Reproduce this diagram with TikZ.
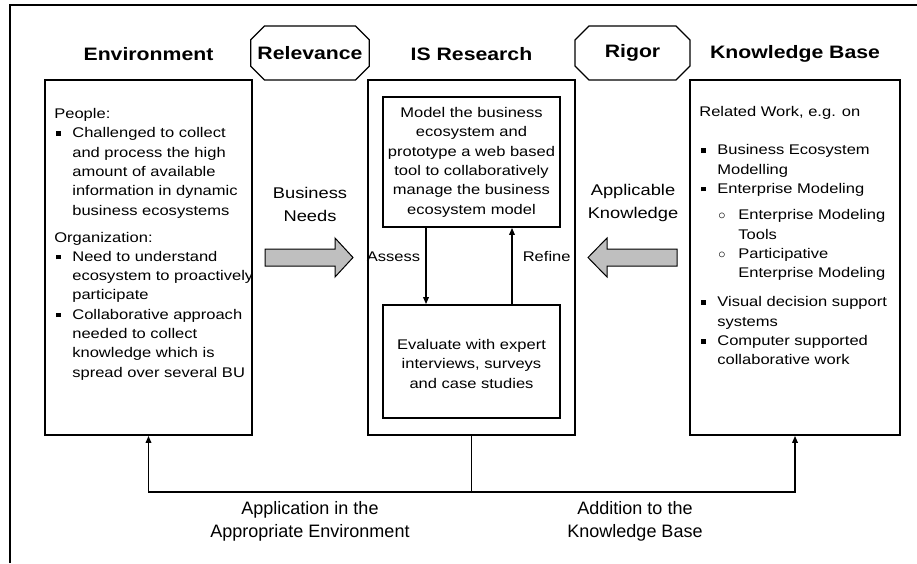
\documentclass[tikz,border=0pt]{standalone}
\usepackage{fontspec}
\setmainfont{Liberation Sans}[FakeStretch=1.18]
\newfontfamily\plainsans{Liberation Sans}
\usetikzlibrary{positioning,shapes.misc,arrows.meta}

\newcommand{\sqb}{\makebox[18pt][l]{\hspace{2pt}\rule[2pt]{4.5pt}{4.5pt}}}
\newcommand{\ind}{\hspace*{18pt}}
\newcommand{\cirb}{\hspace*{19pt}\makebox[20pt][l]{$\circ$}}
\newcommand{\subind}{\hspace*{39pt}}

\begin{document}
\begin{tikzpicture}[x=1pt,y=-1pt]
    \tikzstyle{frame} = [rectangle, draw=black, line width=1.7pt, inner sep=0pt, minimum height=355pt]
    \tikzstyle{inbox} = [rectangle, draw=black, line width=1.7pt, inner sep=0pt, minimum width=177pt]
    \tikzstyle{octa} = [chamfered rectangle, chamfered rectangle xsep=7pt, chamfered rectangle ysep=7pt, draw=black, line width=1.3pt, minimum width=116pt, minimum height=54pt, inner sep=0pt, font=\fontsize{18}{22}\selectfont\bfseries]
    \tikzstyle{head} = [font=\fontsize{18}{22}\selectfont\bfseries]
    \tikzstyle{body} = [inner sep=0pt, align=left, font=\fontsize{14}{19.3}\selectfont]
    \tikzstyle{flow} = [align=center, font=\fontsize{15.5}{23}\selectfont]
    \tikzstyle{foot} = [align=center, font=\plainsans\fontsize{18}{23}\selectfont]
    \tikzstyle{arrow} = [line width=1.6pt, ->, >={Triangle[length=7pt,width=5.5pt]}]
    \tikzstyle{fat} = [draw=black, line width=1pt, fill=black!25]

    \useasboundingbox (0,0) rectangle (917,563);
    \draw [line width=1.7pt] (10,563) -- (10,5) -- (917,5);

    % the three columns
    \node (env) [frame, minimum width=207pt] at (148.5,257.5) {};
    \node (isr) [frame, minimum width=207pt] at (471.5,257.5) {};
    \node (kb) [frame, minimum width=210pt] at (795,257.5) {};
    \node (model) [inbox, minimum height=130pt] at (471.5,162) {};
    \node (eval) [inbox, minimum height=113pt] at (471.5,361.5) {};

    \node (envtitle) [head] at (148.5,54) {Environment};
    \node (isrtitle) [head] at (471.5,54) {IS Research};
    \node (kbtitle) [head] at (795,54) {Knowledge Base};
    \node (rel) [octa] at (310,53) {Relevance};
    \node (rig) [octa, minimum width=115pt] at (632.5,53) {Rigor};

    \node (envtext) [body, anchor=north west, below right=29pt and 10pt of env.north west] {People:\\
        \sqb Challenged to collect\\
        \ind and process the high\\
        \ind amount of available\\
        \ind information in dynamic\\
        \ind business ecosystems\\[7.7pt]
        Organization:\\
        \sqb Need to understand\\
        \ind ecosystem to proactively\\
        \ind participate\\
        \sqb Collaborative approach\\
        \ind needed to collect\\
        \ind knowledge which is\\
        \ind spread over several BU};
    \node (modeltext) [body, align=center, below=11pt of model.north] {Model the business\\
        ecosystem and\\
        prototype a web based\\
        tool to collaboratively\\
        manage the business\\
        ecosystem model};
    \node (evaltext) [body, align=center, below=35pt of eval.north] {Evaluate with expert\\
        interviews, surveys\\
        and case studies};
    \node (kbtext) [body, below right=27pt and 10pt of kb.north west] {Related Work, e.g. on\\[19pt]
        \sqb Business Ecosystem\\
        \ind Modelling\\
        \sqb Enterprise Modeling\\[7pt]
        \cirb Enterprise Modeling\\
        \subind Tools\\
        \cirb Participative\\
        \subind Enterprise Modeling\\[10pt]
        \sqb Visual decision support\\
        \ind systems\\
        \sqb Computer supported\\
        \ind collaborative work};

    \draw [arrow] ([xshift=-45.5pt]model.south) -- ([xshift=-45.5pt]eval.north)
        node [body, pos=0.38, left=5pt] {Assess};
    \draw [arrow] ([xshift=40.5pt]eval.north) -- ([xshift=40.5pt]model.south)
        node [body, pos=0.62, right=10pt] {Refine};

    % business needs and applicable knowledge
    \node (needs) [flow] at (310,204) {Business\\Needs};
    \draw [fat] (265,249) -- (335,249) -- (335,238) -- (353,257.5) -- (335,277) -- (335,266) -- (265,266) -- cycle;
    \node (know) [flow] at (633,203) {Applicable\\Knowledge};
    \draw [fat] (677,249) -- (607,249) -- (607,238) -- (588,257.5) -- (607,277) -- (607,266) -- (677,266) -- cycle;

    % feedback to environment and knowledge base
    \coordinate (join) at (471.5,492);
    \draw [arrow] (isr.south) -- (join) -| (env.south);
    \draw [arrow] (join) -| (kb.south);
    \node (appl) [foot] at (310,521) {Application in the\\Appropriate Environment};
    \node (addkb) [foot] at (635,521) {Addition to the\\Knowledge Base};
\end{tikzpicture}
\end{document}
